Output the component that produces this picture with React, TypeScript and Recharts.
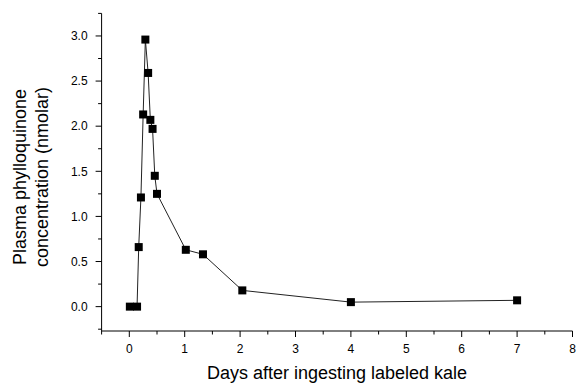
import React from 'react';
import { LineChart, Line, XAxis, YAxis } from 'recharts';

// Time after ingestion (days) and plasma phylloquinone (nmolar)
const days = [0.01, 0.14, 0.17, 0.21, 0.25, 0.29, 0.34, 0.38, 0.42, 0.46, 0.5, 1.02, 1.33, 2.04, 4.0, 7.0];
const concentration = [0, 0, 0.66, 1.21, 2.13, 2.96, 2.59, 2.07, 1.97, 1.45, 1.25, 0.63, 0.58, 0.18, 0.05, 0.07];

const xTicks = [-0.5, 0, 0.5, 1, 1.5, 2, 2.5, 3, 3.5, 4, 4.5, 5, 5.5, 6, 6.5, 7, 7.5, 8];
const yTicks = [-0.25, 0, 0.25, 0.5, 0.75, 1, 1.25, 1.5, 1.75, 2, 2.25, 2.5, 2.75, 3, 3.25];
const xMajor = [0, 1, 2, 3, 4, 5, 6, 7, 8];
const yMajor = [0, 0.5, 1, 1.5, 2, 2.5, 3];

const xTitle = 'Days after ingesting labeled kale';
const yTitle1 = 'Plasma phylloquinone';
const yTitle2 = 'concentration (nmolar)';

const data = days.map((d, i) => ({ day: d, conc: concentration[i] }));

const FONT = '"Liberation Sans", Arial, Helvetica, sans-serif';

const XTick = (props: any) => {
  const { x, y, payload } = props;
  const v = payload.value;
  const major = xMajor.includes(v);
  return (
    <g>
      <line x1={x} x2={x} y1={y} y2={y + (major ? 6 : 3.5)} stroke="#000" strokeWidth={1} />
      {major && (
        <text x={x} y={y + 22} textAnchor="middle" fontSize={12} fill="#000" fontFamily={FONT}>
          {String(v)}
        </text>
      )}
    </g>
  );
};

const YTick = (props: any) => {
  const { x, y, payload } = props;
  const v = payload.value;
  const major = yMajor.includes(v);
  return (
    <g>
      <line x1={x - (major ? 6 : 3.5)} x2={x} y1={y} y2={y} stroke="#000" strokeWidth={1} />
      {major && (
        <text x={x - 14} y={y + 4.3} textAnchor="end" fontSize={12} fill="#000" fontFamily={FONT}>
          {v.toFixed(1)}
        </text>
      )}
    </g>
  );
};

const Square = (props: any) => {
  const { cx, cy, index } = props;
  if (cx == null || cy == null) return <g key={index} />;
  return <rect key={index} x={cx - 4} y={cy - 4} width={8} height={8} fill="#000" />;
};

const YLabel = () => (
  <g>
    <text
      x={25.5}
      y={177}
      transform="rotate(-90 25.5 177)"
      textAnchor="middle"
      fontSize={18}
      fill="#000"
      fontFamily={FONT}
    >
      {yTitle1}
    </text>
    <text
      x={48}
      y={177}
      transform="rotate(-90 48 177)"
      textAnchor="middle"
      fontSize={18}
      fill="#000"
      fontFamily={FONT}
    >
      {yTitle2}
    </text>
  </g>
);

const XLabel = () => (
  <text x={337} y={379} textAnchor="middle" fontSize={18} fill="#000" fontFamily={FONT}>
    {xTitle}
  </text>
);

export default function App() {
  return (
    <div style={{ position: 'absolute', left: 0, top: 0, width: 577, height: 384, background: '#fff' }}>
      <LineChart
        width={577}
        height={384}
        data={data}
        margin={{ top: 13.4, right: 4.5, bottom: 13, left: 0 }}
      >
        <XAxis
          type="number"
          dataKey="day"
          domain={[-0.5, 8]}
          ticks={xTicks}
          interval={0}
          allowDataOverflow
          tickLine={false}
          tickSize={0}
          tickMargin={0}
          tick={<XTick />}
          axisLine={{ stroke: '#000', strokeWidth: 1 }}
          height={40}
          label={<XLabel />}
        />
        <YAxis
          type="number"
          domain={[-0.27, 3.25]}
          ticks={yTicks}
          interval={0}
          allowDataOverflow
          tickLine={false}
          tickSize={0}
          tickMargin={0}
          tick={<YTick />}
          axisLine={{ stroke: '#000', strokeWidth: 1 }}
          width={101.6}
          label={<YLabel />}
        />
        <Line
          type="linear"
          dataKey="conc"
          stroke="#222"
          strokeWidth={1}
          dot={<Square />}
          activeDot={false}
          isAnimationActive={false}
        />
      </LineChart>
    </div>
  );
}
